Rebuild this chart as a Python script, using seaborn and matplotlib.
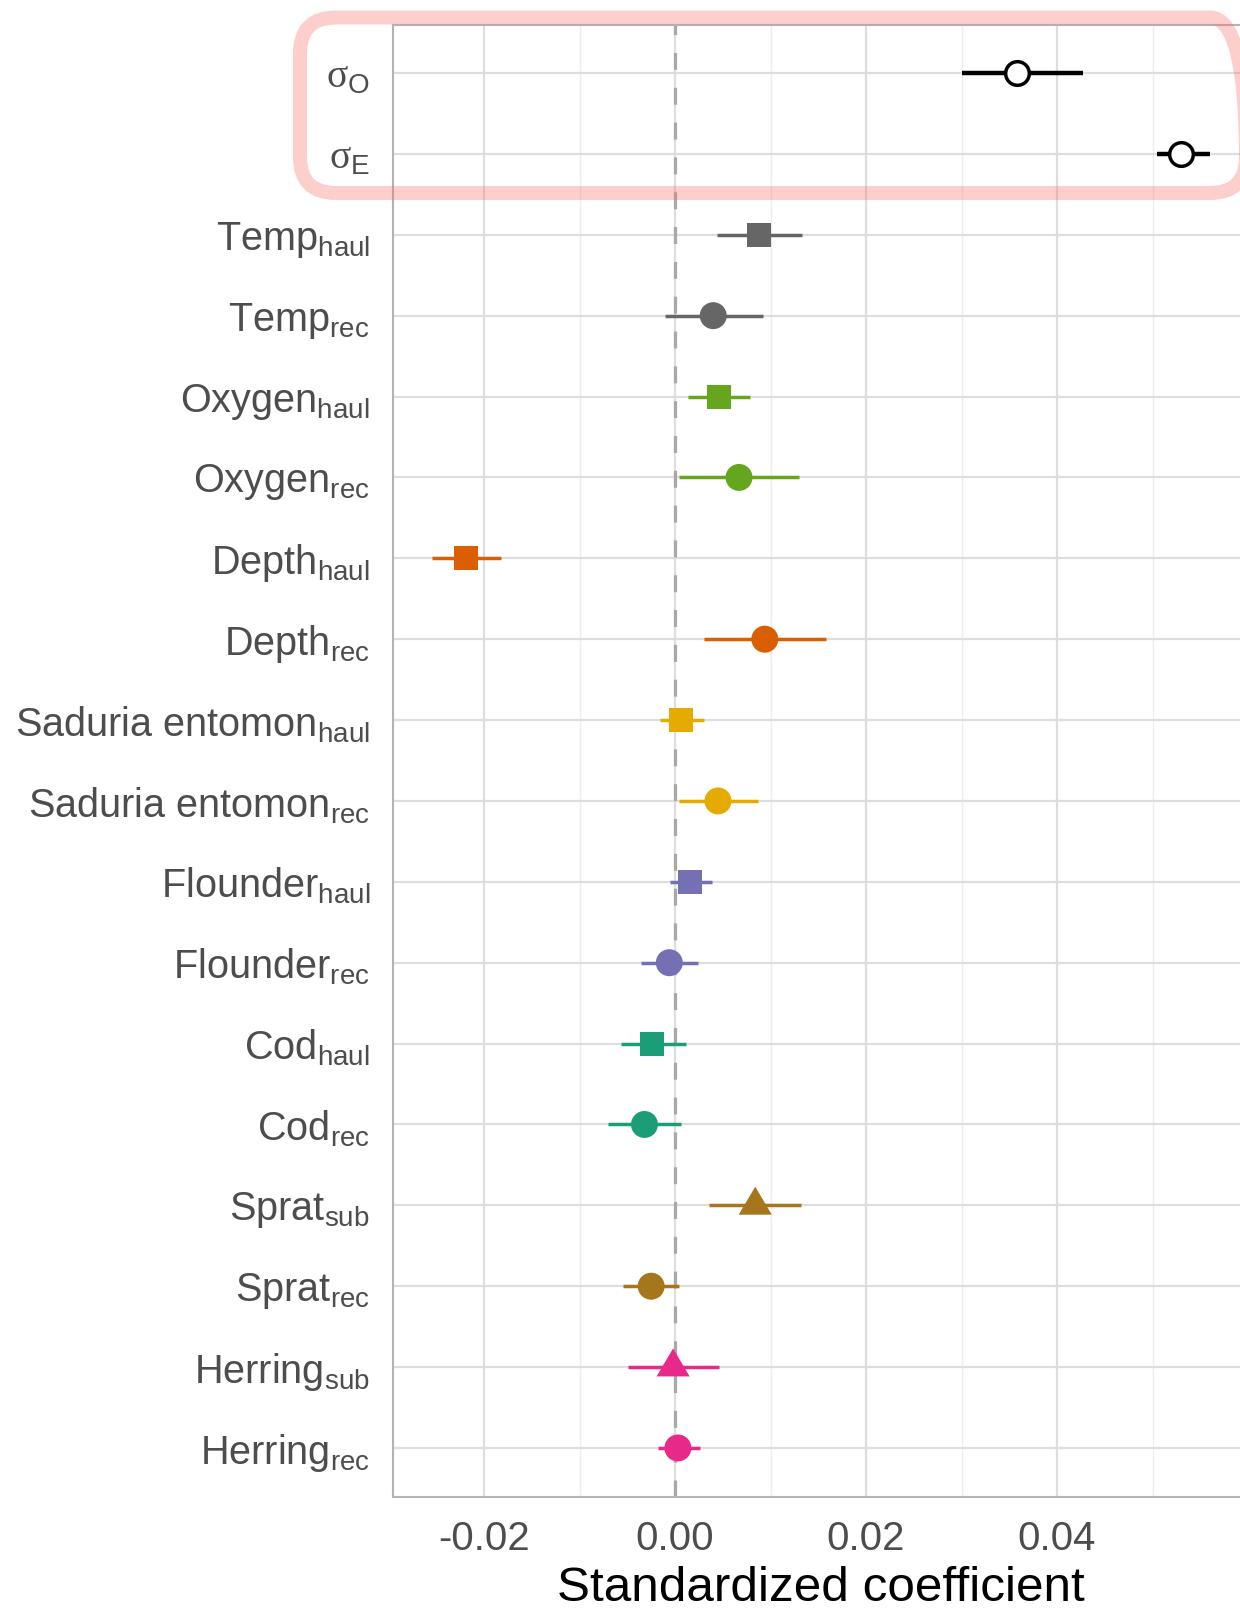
import numpy as np
import pandas as pd
import matplotlib
matplotlib.use("Agg")
import matplotlib.pyplot as plt
from matplotlib.patches import FancyBboxPatch
from matplotlib.path import Path
from matplotlib.transforms import IdentityTransform
from matplotlib.ticker import FixedLocator, MultipleLocator
import seaborn as sns

# ---- data -------------------------------------------------------------
label_main = ["σ", "σ", "Temp", "Temp", "Oxygen", "Oxygen", "Depth", "Depth",
              "Saduria entomon", "Saduria entomon", "Flounder", "Flounder",
              "Cod", "Cod", "Sprat", "Sprat", "Herring", "Herring"]
label_sub = ["O", "E", "haul", "rec", "haul", "rec", "haul", "rec",
             "haul", "rec", "haul", "rec", "haul", "rec", "sub", "rec", "sub", "rec"]
group = ["sigma", "sigma", "Temp", "Temp", "Oxygen", "Oxygen", "Depth", "Depth",
         "Saduria", "Saduria", "Flounder", "Flounder", "Cod", "Cod",
         "Sprat", "Sprat", "Herring", "Herring"]
kind = ["sigma", "sigma", "haul", "rec", "haul", "rec", "haul", "rec",
        "haul", "rec", "haul", "rec", "haul", "rec", "sub", "rec", "sub", "rec"]
estimate = [0.0358, 0.0530, 0.0088, 0.0040, 0.0046, 0.0067, -0.0219, 0.0094,
            0.0006, 0.0045, 0.0016, -0.0006, -0.0024, -0.0032, 0.0084, -0.0025,
            -0.0002, 0.0003]
lower = [0.0301, 0.0505, 0.0044, -0.0010, 0.0014, 0.0004, -0.0254, 0.0030,
         -0.0016, 0.0004, -0.0005, -0.0036, -0.0057, -0.0070, 0.0036, -0.0054,
         -0.0049, -0.0018]
upper = [0.0427, 0.0560, 0.0133, 0.0092, 0.0079, 0.0130, -0.0182, 0.0158,
         0.0030, 0.0087, 0.0039, 0.0024, 0.0011, 0.0006, 0.0132, 0.0004,
         0.0046, 0.0026]
x_ticks = [-0.02, 0.00, 0.02, 0.04]
x_tick_labels = ["-0.02", "0.00", "0.02", "0.04"]

group_colors = {"Cod": "#1B9E77", "Depth": "#D95F02", "Flounder": "#7570B3",
                "Herring": "#E7298A", "Oxygen": "#66A61E", "Saduria": "#E6AB02",
                "Sprat": "#A6761D", "Temp": "#666666", "sigma": "black"}

df = pd.DataFrame({"main": label_main, "sub": label_sub, "group": group,
                   "kind": kind, "estimate": estimate, "lower": lower,
                   "upper": upper})
df["ypos"] = np.arange(len(df))


def make_label(main, sub):
    if main == "σ":
        return r"$\mathsf{σ}_{\mathregular{" + sub + "}}$"
    return r"$\mathregular{" + main.replace(" ", r"\ ") + "_{" + sub + "}}$"


tick_labels = [make_label(m, s) for m, s in zip(df["main"], df["sub"])]

# ---- style ------------------------------------------------------------
sns.set_style("white")
plt.rcParams["font.family"] = ["Liberation Sans", "DejaVu Sans"]
plt.rcParams["mathtext.fontset"] = "custom"
plt.rcParams["mathtext.rm"] = "Liberation Sans"
plt.rcParams["mathtext.it"] = "Liberation Sans:italic"
plt.rcParams["mathtext.bf"] = "Liberation Sans:bold"
plt.rcParams["mathtext.sf"] = "Liberation Serif"

fig = plt.figure(figsize=(12.4, 16.11), dpi=100)
ax = fig.add_axes([393 / 1240, 114.5 / 1611, 856 / 1240, 1472 / 1611])

# triangle with its centroid on the data point
tri = Path([(0, 2 / 3), (-0.59, -1 / 3), (0.59, -1 / 3), (0, 2 / 3)],
           [Path.MOVETO, Path.LINETO, Path.LINETO, Path.CLOSEPOLY])

# zero reference line
ax.axvline(0, color="#A8A8A8", lw=2.3, ls=(0, (5.3, 5.6)), zorder=1.5)

# interval lines
coef = df[df["kind"] != "sigma"]
sig = df[df["kind"] == "sigma"]
ax.hlines(coef["ypos"], coef["lower"], coef["upper"],
          colors=[group_colors[g] for g in coef["group"]], lw=2.5, zorder=2)
ax.hlines(sig["ypos"], sig["lower"], sig["upper"], colors="black", lw=3.2,
          zorder=2)

# point estimates
sns.scatterplot(data=coef, x="estimate", y="ypos", hue="group",
                palette=group_colors, style="kind",
                markers={"haul": "s", "rec": "o", "sub": tri},
                size="kind", sizes={"haul": 299, "rec": 377, "sub": 724},
                linewidth=0, legend=False, ax=ax, zorder=3)
sns.scatterplot(data=sig, x="estimate", y="ypos", color="white",
                edgecolor="black", linewidth=2.5, s=290, marker="o",
                legend=False, ax=ax, zorder=3)

# ---- axes -------------------------------------------------------------
ax.set_xlim(-0.02953, 0.0601)
ax.set_ylim(len(df) - 1 + 0.6, -0.6)
ax.xaxis.set_major_locator(FixedLocator(x_ticks))
ax.set_xticklabels(x_tick_labels)
ax.xaxis.set_minor_locator(MultipleLocator(0.01))
ax.set_yticks(df["ypos"])
ax.set_yticklabels(tick_labels)

ax.grid(True, which="major", color="#DEDEDE", lw=1.6, zorder=0)
ax.grid(True, which="minor", axis="x", color="#EDEDED", lw=1.0, zorder=0)
ax.set_axisbelow(True)

for side in ["left", "bottom", "top"]:
    ax.spines[side].set_color("#B3B3B3")
    ax.spines[side].set_linewidth(1.5)
ax.spines["right"].set_visible(False)

ax.tick_params(axis="both", which="major", length=8.6, width=1.5,
               color="#B3B3B3", labelcolor="#4D4D4D")
ax.tick_params(axis="y", labelsize=28.5, pad=8)
ax.tick_params(axis="x", labelsize=28.9, pad=8.3)
ax.tick_params(which="minor", length=0)

ax.set_xlabel("Standardized coefficient", fontsize=35.6, color="black",
              labelpad=6)
ax.set_ylabel("")

# highlight around the variance parameters
box = FancyBboxPatch((300, 1611 - 193), 946, 175.5,
                     boxstyle="round,pad=0,rounding_size=36",
                     transform=IdentityTransform(), facecolor="none",
                     edgecolor="#F8766D", alpha=0.35, lw=10.1, zorder=5)
fig.add_artist(box)

fig.savefig("out.png", dpi=100)
